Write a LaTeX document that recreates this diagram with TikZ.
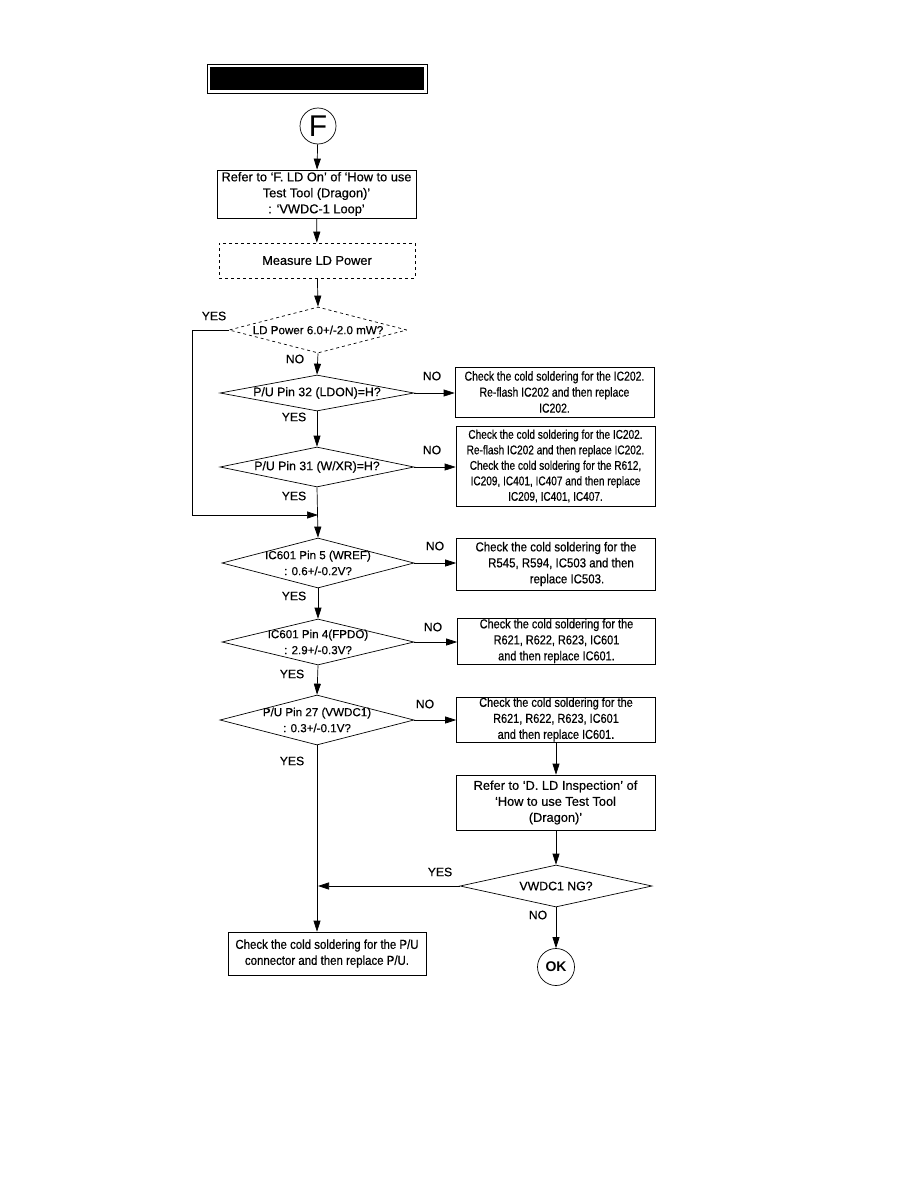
\documentclass[tikz,border=0pt]{standalone}
\usepackage{fontspec}
\setmainfont{Liberation Sans}[FakeBold=0.5]
\newfontfamily\condA{Liberation Sans}[FakeStretch=0.80,FakeBold=0.5]
\newfontfamily\condB{Liberation Sans}[FakeStretch=0.84,FakeBold=0.5]
\newfontfamily\condC{Liberation Sans}[FakeStretch=0.88,FakeBold=0.5]
\newfontfamily\plainF{Liberation Sans}
\usetikzlibrary{arrows.meta,shapes.geometric}
\tikzset{
  base/.style={font=\fontsize{12.8}{16}\selectfont, align=center, inner sep=0pt},
  dtext/.style={font=\fontsize{12.3}{16}\selectfont, align=center, inner sep=0pt},
  dtexts/.style={font=\fontsize{11.6}{16}\selectfont, align=center, inner sep=0pt},
  rboxA/.style={font=\condA\fontsize{13}{16}\selectfont, align=center, inner sep=0pt},
  rboxB/.style={font=\condB\fontsize{13}{16}\selectfont, align=center, inner sep=0pt},
  rboxC/.style={font=\condC\fontsize{13}{16}\selectfont, align=center, inner sep=0pt},
  rboxS/.style={font=\condA\fontsize{12.6}{15.5}\selectfont, align=center, inner sep=0pt},
  stepbox/.style={draw, line width=0.7pt, rectangle, inner sep=0pt},
  dia/.style={draw, line width=0.7pt, diamond, inner sep=0pt},
  lbl/.style={font=\fontsize{12.2}{14}\selectfont, inner sep=0pt},
  arr/.style={line width=0.7pt, -{Triangle[length=11pt,width=7pt]}},
  ln/.style={line width=0.7pt},
}
\begin{document}
\begin{tikzpicture}[x=1pt,y=-1pt]
\useasboundingbox (0,0) rectangle (918,1188);
% title bar
\node[draw, line width=0.8pt, minimum width=220, minimum height=29, inner sep=0pt] (title) at (317,78.5) {};
\node[fill=black, minimum width=214, minimum height=23, inner sep=0pt] (titlefill) at (317,78.5) {};
% start
\node[draw, circle, line width=0.7pt, minimum size=36, inner sep=0pt, font=\plainF\fontsize{30}{30}\selectfont] (F) at (318,126) {F};
\node[stepbox, minimum width=199, minimum height=48] (b1) at (316.5,194) {};
\node[base] (b1t) at (b1) {Refer to ‘F. LD On’ of ‘How to use\\Test Tool (Dragon)’\\: ‘VWDC-1 Loop’};
\node[stepbox, dashed, minimum width=196, minimum height=35] (meas) at (317,260.5) {};
\node[base] (meast) at (meas) {Measure LD Power};
\node[dia, dashed, minimum width=178, minimum height=46] (d1) at (318,330) {};
\node[dtexts] (d1t) at (d1) {LD Power 6.0+/-2.0 mW?};
\node[dia, minimum width=194, minimum height=36] (d2) at (317,393) {};
\node[dtext] (d2t) at (d2) {P/U Pin 32 (LDON)=H?};
\node[stepbox, minimum width=199, minimum height=50] (b2) at (554.5,392) {};
\node[rboxA] (b2t) at (b2) {Check the cold soldering for the IC202.\\Re-flash IC202 and then replace\\IC202.};
\node[dia, minimum width=194, minimum height=40] (d3) at (317,467) {};
\node[dtext] (d3t) at (d3) {P/U Pin 31 (W/XR)=H?};
\node[stepbox, minimum width=199, minimum height=80] (b3) at (555.5,466) {};
\node[rboxS] (b3t) at (b3) {Check the cold soldering for the IC202.\\Re-flash IC202 and then replace IC202.\\Check the cold soldering for the R612,\\IC209, IC401, IC407 and then replace\\IC209, IC401, IC407.};
\node[dia, minimum width=192, minimum height=50] (d4) at (318,563) {};
\node[dtexts] (d4t) at (d4) {IC601 Pin 5 (WREF)\\: 0.6+/-0.2V?};
\node[stepbox, minimum width=199, minimum height=52] (b4) at (556,564) {};
\node[rboxC] (b4t) at (b4) {Check the cold soldering for the\\\hspace*{10pt}R545, R594, IC503 and then\\\hspace*{22pt}replace IC503.};
\node[dia, minimum width=192, minimum height=46] (d5) at (318,642) {};
\node[dtexts] (d5t) at (d5) {IC601 Pin 4(FPDO)\\: 2.9+/-0.3V?};
\node[stepbox, minimum width=198, minimum height=46] (b5) at (556.5,641) {};
\node[rboxB] (b5t) at (b5) {Check the cold soldering for the\\R621, R622, R623, IC601\\and then replace IC601.};
\node[dia, minimum width=194, minimum height=50] (d6) at (317,720) {};
\node[dtexts] (d6t) at (d6) {P/U Pin 27 (VWDC1)\\: 0.3+/-0.1V?};
\node[stepbox, minimum width=199, minimum height=45] (b6) at (556,719.5) {};
\node[rboxB] (b6t) at (b6) {Check the cold soldering for the\\R621, R622, R623, IC601\\and then replace IC601.};
\node[stepbox, minimum width=199, minimum height=55] (b7) at (555.5,802.5) {};
\node[base] (b7t) at (b7) {Refer to ‘D. LD Inspection’ of\\‘How to use Test Tool\\(Dragon)’};
\node[dia, minimum width=192, minimum height=42] (d7) at (556,886) {};
\node[dtext] (d7t) at (d7) {VWDC1 NG?};
\node[draw, circle, line width=0.7pt, minimum size=37, inner sep=0pt, font=\plainF\fontsize{14}{14}\selectfont\bfseries] (ok) at (556,967) {OK};
\node[stepbox, minimum width=198, minimum height=43] (b8) at (327,953.5) {};
\node[rboxC] (b8t) at (b8) {Check the cold soldering for the P/U\\connector and then replace P/U.};
% connectors
\coordinate (join) at (318,515);
\coordinate (j2) at (318,886);
\draw[arr] (F) -- (b1);
\draw[arr] (b1) -- (meas);
\draw[arr] (meas) -- (d1.north);
\draw[arr] (d1.south) -- (d2.north);
\draw[arr] (d2.south) -- (d3.north);
\draw[arr] (d3.south) -- (d4.north);
\draw[arr] (d4.south) -- (d5.north);
\draw[arr] (d5.south) -- (d6.north);
\draw[arr] (d6.south) -- (d6.south |- b8.north);
\draw[ln, -{Triangle[length=11pt,width=7pt]}] (d1.west) -- ++(-36,0) |- (join);
\draw[arr] (d2.east) -- (b2.west |- d2.east);
\draw[arr] (d3.east) -- (b3.west |- d3.east);
\draw[arr] (d4.east) -- (b4.west |- d4.east);
\draw[arr] (d5.east) -- (b5.west |- d5.east);
\draw[arr] (d6.east) -- (b6.west |- d6.east);
\draw[arr] (b6.south -| d7) -- (b7.north -| d7);
\draw[arr] (b7.south -| d7) -- (d7.north);
\draw[arr] (d7.south) -- (ok);
\draw[arr] (d7.west) -- (j2);
% labels
\node[lbl] (y1) at (214,316) {YES};
\node[lbl] (n1) at (295,359) {NO};
\node[lbl] (n2) at (432,376) {NO};
\node[lbl] (y2) at (294,417) {YES};
\node[lbl] (n3) at (432,450) {NO};
\node[lbl] (y3) at (294,496) {YES};
\node[lbl] (n4) at (435,546) {NO};
\node[lbl] (y4) at (294,596) {YES};
\node[lbl] (n5) at (433,627) {NO};
\node[lbl] (y5) at (292,674) {YES};
\node[lbl] (n6) at (425,704) {NO};
\node[lbl] (y6) at (292,761) {YES};
\node[lbl] (y7) at (440,872) {YES};
\node[lbl] (n7) at (538,915) {NO};
\end{tikzpicture}
\end{document}
